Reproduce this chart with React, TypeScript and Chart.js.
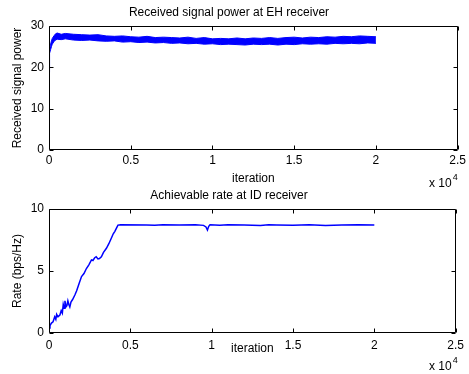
import React, { useEffect, useRef } from "react";
import { Chart, registerables } from "chart.js";

Chart.register(...registerables);

// ---------- data ----------
const powerIters = [0, 10, 30, 60, 100, 150, 200, 300, 400, 500, 750, 1000, 1500, 2000, 2500, 3000, 3500, 4000, 4500, 5000, 5500, 6000, 6500, 7000, 7500, 8000, 8500, 9000, 9500, 10000, 10500, 11000, 11500, 12000, 12500, 13000, 13500, 14000, 14500, 15000, 15500, 16000, 16500, 17000, 17500, 18000, 18500, 19000, 19500, 20000];
const powerUpper = [19.6, 22.5, 24.0, 24.8, 25.6, 26.4, 27.0, 27.6, 28.1, 28.3, 28.0, 28.2, 28.0, 27.9, 27.8, 27.9, 27.6, 27.5, 27.6, 27.4, 27.3, 27.5, 27.2, 27.3, 27.2, 27.1, 27.3, 27.0, 27.2, 26.9, 27.0, 26.9, 27.1, 26.9, 27.1, 27.0, 27.2, 27.0, 27.2, 27.3, 27.1, 27.3, 27.2, 27.4, 27.3, 27.5, 27.4, 27.6, 27.5, 27.4];
const powerLower = [18.8, 19.5, 21.5, 23.4, 24.3, 25.0, 25.6, 26.2, 26.6, 26.8, 26.7, 26.9, 26.6, 26.5, 26.6, 26.4, 26.3, 26.4, 26.1, 26.2, 26.0, 26.1, 25.9, 26.0, 25.8, 25.9, 25.7, 25.8, 25.6, 25.7, 25.5, 25.6, 25.5, 25.4, 25.6, 25.5, 25.6, 25.4, 25.6, 25.5, 25.7, 25.6, 25.7, 25.6, 25.8, 25.7, 25.8, 25.7, 25.9, 25.8];

const rateIters = [0, 60, 150, 250, 350, 420, 470, 550, 670, 750, 820, 875, 930, 980, 1040, 1100, 1160, 1220, 1280, 1350, 1450, 1590, 1700, 1850, 2000, 2150, 2300, 2450, 2610, 2700, 2810, 2900, 3010, 3100, 3220, 3350, 3530, 3680, 3830, 3950, 4050, 4140, 4240, 4400, 6000, 6500, 7000, 8000, 9000, 9500, 9650, 9740, 9820, 9900, 10500, 11000, 12000, 13000, 13500, 14000, 15000, 16000, 17000, 18000, 19000, 20000];
const rateValues = [0.4, 0.6, 0.8, 0.9, 1.3, 1.1, 1.5, 1.3, 1.45, 1.8, 1.6, 2.3, 2.0, 2.6, 2.1, 2.2, 2.6, 2.3, 2.1, 2.5, 2.7, 3.06, 3.4, 4.0, 4.55, 4.8, 5.2, 5.5, 5.9, 5.85, 6.07, 6.15, 5.97, 6.0, 6.15, 6.5, 6.83, 7.2, 7.64, 8.0, 8.2, 8.44, 8.7, 8.72, 8.7, 8.68, 8.72, 8.7, 8.72, 8.68, 8.55, 8.3, 8.6, 8.72, 8.68, 8.72, 8.7, 8.66, 8.72, 8.7, 8.68, 8.72, 8.66, 8.7, 8.72, 8.7];

const xTickValues = [0, 5000, 10000, 15000, 20000, 25000];
const xTickLabels = ["0", "0.5", "1", "1.5", "2", "2.5"];
const powerTickValues = [0, 10, 20, 30];
const powerTickLabels = ["0", "10", "20", "30"];
const rateTickValues = [0, 5, 10];
const rateTickLabels = ["0", "5", "10"];

const FONT = '"Liberation Sans", Arial, Helvetica, sans-serif';
const BLUE = "#0000ff";

const matlabAxes = {
  id: "matlabAxes",
  afterDraw(chart: any, _args: any, opts: any) {
    const { ctx, chartArea, scales } = chart;
    const { left, right, top, bottom } = chartArea;
    const L = Math.round(left) + 0.5;
    const R = Math.round(right) - 0.5;
    const T = Math.round(top) + 0.5;
    const B = Math.round(bottom) - 0.5;
    ctx.save();
    ctx.strokeStyle = "#000";
    ctx.lineWidth = 1;
    ctx.beginPath();
    ctx.rect(L, T, R - L, B - T);
    const tl = 4;
    scales.x.ticks.forEach((t: any) => {
      const px = Math.round(scales.x.getPixelForValue(t.value)) + 0.5;
      ctx.moveTo(px, B);
      ctx.lineTo(px, B - tl);
      ctx.moveTo(px, T);
      ctx.lineTo(px, T + tl);
    });
    scales.y.ticks.forEach((t: any) => {
      const py = Math.round(scales.y.getPixelForValue(t.value)) + 0.5;
      ctx.moveTo(L, py);
      ctx.lineTo(L + tl, py);
      ctx.moveTo(R, py);
      ctx.lineTo(R - tl, py);
    });
    ctx.stroke();
    ctx.fillStyle = "#000";
    ctx.textAlign = "left";
    ctx.textBaseline = "middle";
    ctx.font = `12px ${FONT}`;
    ctx.fillText("x 10", opts.ex, opts.ey);
    const w = ctx.measureText("x 10").width;
    ctx.font = `9px ${FONT}`;
    ctx.fillText("4", opts.ex + w + 1, opts.ey - 6);
    ctx.restore();
  },
};

function makeOptions(cfg: any) {
  return {
    responsive: false,
    animation: false,
    layout: { padding: { left: 0, right: 11, top: 0, bottom: 0 } },
    plugins: {
      legend: { display: false },
      tooltip: { enabled: false },
      title: {
        display: true,
        text: cfg.title,
        color: "#000",
        font: { family: FONT, size: 12, weight: "normal" },
        padding: { top: cfg.titleTop, bottom: cfg.titleBottom },
      },
      matlabAxes: { ex: 429, ey: cfg.expY },
    },
    scales: {
      x: {
        type: "linear",
        min: 0,
        max: 25000,
        afterBuildTicks: (s: any) => {
          s.ticks = xTickValues.map((v) => ({ value: v }));
        },
        afterFit: (s: any) => {
          s.height = cfg.xHeight;
        },
        grid: { display: false, drawTicks: false },
        border: { display: false },
        ticks: {
          color: "#000",
          padding: cfg.xTickPad,
          maxRotation: 0,
          autoSkip: false,
          font: { family: FONT, size: 12 },
          callback: (_v: any, i: number) => xTickLabels[i],
        },
        title: {
          display: true,
          text: "iteration",
          color: "#000",
          font: { family: FONT, size: 12 },
          padding: { top: 0, bottom: cfg.xTitleBottom },
        },
      },
      y: {
        type: "linear",
        min: cfg.yMin,
        max: cfg.yMax,
        afterBuildTicks: (s: any) => {
          s.ticks = cfg.yTicks.map((v: number) => ({ value: v }));
        },
        afterFit: (s: any) => {
          s.width = 49;
        },
        grid: { display: false, drawTicks: false },
        border: { display: false },
        ticks: {
          color: "#000",
          padding: 5,
          autoSkip: false,
          font: { family: FONT, size: 12 },
          callback: (_v: any, i: number) => cfg.yLabels[i],
        },
        title: {
          display: true,
          text: cfg.yTitle,
          color: "#000",
          font: { family: FONT, size: 12 },
          padding: { top: 10, bottom: 0 },
        },
      },
    },
  };
}

export default function App() {
  const topRef = useRef<HTMLCanvasElement>(null);
  const botRef = useRef<HTMLCanvasElement>(null);

  useEffect(() => {
    const c1 = new Chart(topRef.current as HTMLCanvasElement, {
      type: "line",
      data: {
        datasets: [
          {
            data: powerIters.map((x, i) => ({ x, y: powerUpper[i] })),
            borderColor: BLUE,
            borderWidth: 1,
            pointRadius: 0,
            fill: false,
          },
          {
            data: powerIters.map((x, i) => ({ x, y: powerLower[i] })),
            borderColor: BLUE,
            backgroundColor: BLUE,
            borderWidth: 1,
            pointRadius: 0,
            fill: "-1",
          },
        ],
      },
      options: makeOptions({
        title: "Received signal power at EH receiver",
        titleTop: 5,
        titleBottom: 6.6,
        xHeight: 37,
        xTickPad: 3,
        xTitleBottom: 1,
        expY: 184,
        yMin: 0,
        yMax: 30,
        yTicks: powerTickValues,
        yLabels: powerTickLabels,
        yTitle: "Received signal power",
      }) as any,
      plugins: [matlabAxes],
    });
    const c2 = new Chart(botRef.current as HTMLCanvasElement, {
      type: "line",
      data: {
        datasets: [
          {
            data: rateIters.map((x, i) => ({ x, y: rateValues[i] })),
            borderColor: BLUE,
            borderWidth: 1.5,
            pointRadius: 0,
            fill: false,
          },
        ],
      },
      options: makeOptions({
        title: "Achievable rate at ID receiver",
        titleTop: 1.5,
        titleBottom: 6.1,
        xHeight: 41,
        xTickPad: 5,
        xTitleBottom: 18,
        expY: 180,
        yMin: 0,
        yMax: 10,
        yTicks: rateTickValues,
        yLabels: rateTickLabels,
        yTitle: "Rate (bps/Hz)",
      }) as any,
      plugins: [matlabAxes],
    });
    return () => {
      c1.destroy();
      c2.destroy();
    };
  }, []);

  return (
    <div style={{ position: "absolute", left: 0, top: 0, width: 469, height: 374, background: "#fff" }}>
      <canvas ref={topRef} width={469} height={187} style={{ position: "absolute", left: 0, top: 0, width: 469, height: 187 }} />
      <canvas ref={botRef} width={469} height={187} style={{ position: "absolute", left: 0, top: 187, width: 469, height: 187 }} />
    </div>
  );
}
